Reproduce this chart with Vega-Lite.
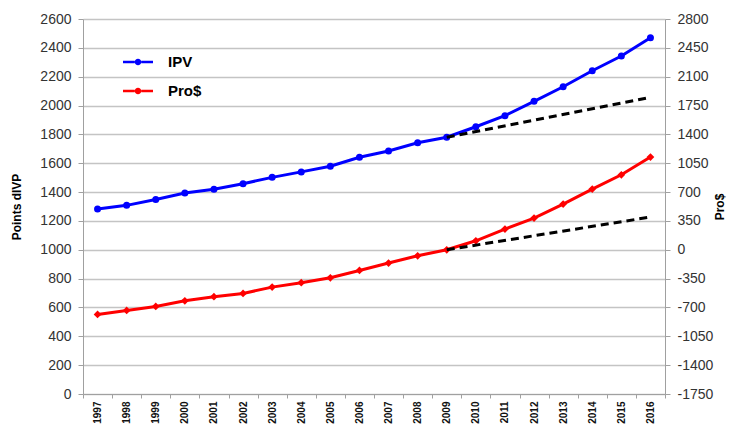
{
  "$schema": "https://vega.github.io/schema/vega-lite/v6.json",
  "autosize": {"type": "none"},
  "width": 582,
  "height": 375,
  "padding": {"left": 83, "top": 19, "right": 77, "bottom": 39},
  "background": "white",
  "config": {
    "font": "Liberation Sans",
    "view": {"stroke": null},
    "axis": {"domainColor": "#a0a0a0", "tickColor": "#a0a0a0", "labelColor": "#333333", "titleColor": "#000000"}
  },
  "datasets": {
    "series": [
      {"year": "1997", "series": "IPV", "value": 1282},
      {"year": "1998", "series": "IPV", "value": 1308},
      {"year": "1999", "series": "IPV", "value": 1349},
      {"year": "2000", "series": "IPV", "value": 1394},
      {"year": "2001", "series": "IPV", "value": 1419},
      {"year": "2002", "series": "IPV", "value": 1458},
      {"year": "2003", "series": "IPV", "value": 1502},
      {"year": "2004", "series": "IPV", "value": 1540},
      {"year": "2005", "series": "IPV", "value": 1579},
      {"year": "2006", "series": "IPV", "value": 1641},
      {"year": "2007", "series": "IPV", "value": 1685},
      {"year": "2008", "series": "IPV", "value": 1742},
      {"year": "2009", "series": "IPV", "value": 1780},
      {"year": "2010", "series": "IPV", "value": 1853},
      {"year": "2011", "series": "IPV", "value": 1930},
      {"year": "2012", "series": "IPV", "value": 2029},
      {"year": "2013", "series": "IPV", "value": 2130},
      {"year": "2014", "series": "IPV", "value": 2241},
      {"year": "2015", "series": "IPV", "value": 2343},
      {"year": "2016", "series": "IPV", "value": 2470},
      {"year": "1997", "series": "Pro$", "value": -785},
      {"year": "1998", "series": "Pro$", "value": -736},
      {"year": "1999", "series": "Pro$", "value": -688},
      {"year": "2000", "series": "Pro$", "value": -619},
      {"year": "2001", "series": "Pro$", "value": -570},
      {"year": "2002", "series": "Pro$", "value": -530},
      {"year": "2003", "series": "Pro$", "value": -453},
      {"year": "2004", "series": "Pro$", "value": -400},
      {"year": "2005", "series": "Pro$", "value": -340},
      {"year": "2006", "series": "Pro$", "value": -251},
      {"year": "2007", "series": "Pro$", "value": -161},
      {"year": "2008", "series": "Pro$", "value": -73},
      {"year": "2009", "series": "Pro$", "value": 0},
      {"year": "2010", "series": "Pro$", "value": 109},
      {"year": "2011", "series": "Pro$", "value": 251},
      {"year": "2012", "series": "Pro$", "value": 385},
      {"year": "2013", "series": "Pro$", "value": 554},
      {"year": "2014", "series": "Pro$", "value": 736},
      {"year": "2015", "series": "Pro$", "value": 910},
      {"year": "2016", "series": "Pro$", "value": 1125}
    ],
    "trend": [
      {"year": "2009", "series": "IPV", "value": 1780},
      {"year": "2016", "series": "IPV", "value": 2057},
      {"year": "2009", "series": "Pro$", "value": 0},
      {"year": "2016", "series": "Pro$", "value": 397}
    ]
  },
  "encoding": {
    "x": {
      "field": "year",
      "type": "ordinal",
      "scale": {"type": "band", "paddingInner": 0, "paddingOuter": 0, "domain": ["1997","1998","1999","2000","2001","2002","2003","2004","2005","2006","2007","2008","2009","2010","2011","2012","2013","2014","2015","2016"]},
      "axis": {
        "title": null,
        "tickBand": "extent",
        "labelAngle": 270,
        "labelFontWeight": "bold",
        "labelFontSize": 10,
        "labelColor": "#111111",
        "labelPadding": 3,
        "tickSize": 4,
        "grid": false
      }
    }
  },
  "layer": [
    {
      "encoding": {
        "y": {
          "field": "value",
          "type": "quantitative",
          "scale": {"domain": [0, 2600], "nice": false, "zero": false},
          "axis": {
            "orient": "left",
            "values": [0,200,400,600,800,1000,1200,1400,1600,1800,2000,2200,2400,2600],
            "labelExpr": "'' + datum.value",
            "grid": true,
            "gridColor": "#c4c4c4",
            "gridWidth": 1.5,
            "tickSize": 5,
            "labelFontSize": 14,
            "labelPadding": 7,
            "title": "Points dIVP",
            "titleFontSize": 12,
            "titleFontWeight": "bold",
            "titlePadding": 16
          }
        }
      },
      "layer": [
        {
          "data": {"name": "series"},
          "transform": [{"filter": "datum.series === 'IPV'"}],
          "mark": {"type": "line", "strokeWidth": 3, "point": {"shape": "circle", "size": 49, "filled": true, "color": "#0000ff"}},
          "encoding": {
            "color": {
              "field": "series",
              "type": "nominal",
              "scale": {"domain": ["IPV", "Pro$"], "range": ["#0000ff", "#ff0000"]},
              "legend": {
                "title": null,
                "orient": "none",
                "legendX": 40,
                "legendY": 28,
                "padding": 0,
                "symbolType": "M-1,-0.09L-0.22,-0.09L-0.22,0.09L-1,0.09Z M0.22,-0.09L1,-0.09L1,0.09L0.22,0.09Z M-0.22,0A0.22,0.22,0,1,0,0.22,0A0.22,0.22,0,1,0,-0.22,0Z",
                "symbolSize": 900,
                "symbolStrokeWidth": 0,
                "labelFontSize": 15,
                "labelFontWeight": "bold",
                "labelColor": "#000000",
                "labelOffset": 15,
                "rowPadding": 6,
                "encode": {"symbols": {"update": {"fill": {"scale": "color", "field": "value"}, "fillOpacity": {"value": 1}, "strokeWidth": {"value": 0}}}}
              }
            }
          }
        },
        {
          "data": {"name": "trend"},
          "transform": [{"filter": "datum.series === 'IPV'"}],
          "mark": {"type": "line", "color": "#000000", "strokeWidth": 3, "strokeDash": [8, 5]},
          "encoding": {}
        }
      ]
    },
    {
      "encoding": {
        "y": {
          "field": "value",
          "type": "quantitative",
          "scale": {"domain": [-1750, 2800], "nice": false, "zero": false},
          "axis": {
            "orient": "right",
            "values": [-1750,-1400,-1050,-700,-350,0,350,700,1050,1400,1750,2100,2450,2800],
            "labelExpr": "'' + datum.value",
            "grid": false,
            "tickSize": 5,
            "labelFontSize": 14,
            "labelPadding": 7,
            "title": "Pro$",
            "titleAngle": 270,
            "titleFontSize": 12,
            "titleFontWeight": "bold",
            "titlePadding": 14
          }
        }
      },
      "layer": [
        {
          "data": {"name": "series"},
          "transform": [{"filter": "datum.series === 'Pro$'"}],
          "mark": {"type": "line", "strokeWidth": 3, "point": {"shape": "diamond", "size": 60, "filled": true, "color": "#ff0000"}},
          "encoding": {
            "color": {"field": "series", "type": "nominal"}
          }
        },
        {
          "data": {"name": "trend"},
          "transform": [{"filter": "datum.series === 'Pro$'"}],
          "mark": {"type": "line", "color": "#000000", "strokeWidth": 3, "strokeDash": [8, 5]},
          "encoding": {}
        }
      ]
    }
  ],
  "resolve": {"scale": {"y": "independent"}}
}
